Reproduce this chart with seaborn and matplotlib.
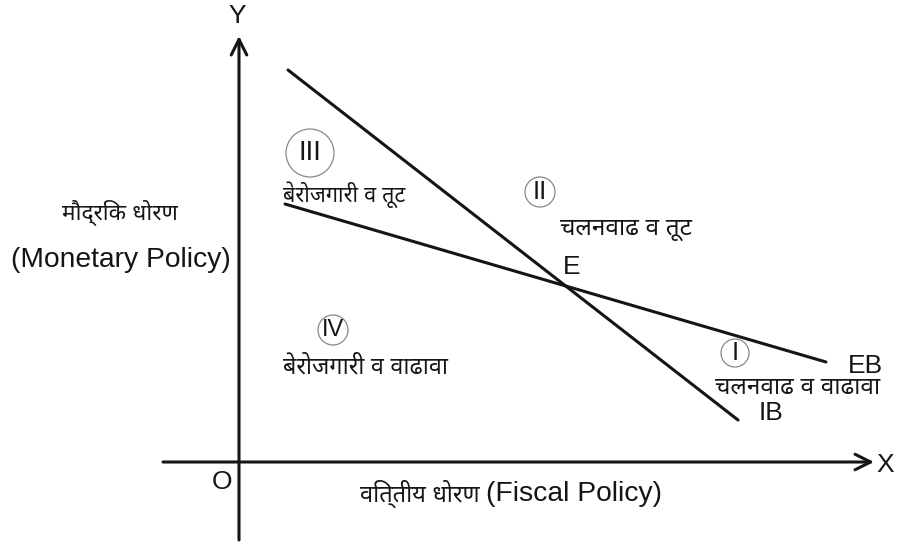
import matplotlib
matplotlib.use("Agg")
import matplotlib.pyplot as plt
from matplotlib.patches import Circle
import seaborn as sns
import pandas as pd

# policy lines, in units measured from the origin O
ib_x = [49, 499]
ib_y = [393, 43]
eb_x = [46, 587]
eb_y = [259, 101]

# quadrant labels: roman numeral, circle centre, radius, text, text position
quad_num = ["III", "II", "IV", "I"]
quad_xy = [(71, 310), (301, 271), (94, 133), (496, 110)]
quad_r = [24, 15, 15, 14]
quad_fs = [20, 18.5, 17, 18.5]
quad_txt = ["बेरोजगारी व तूट", "चलनवाढ व तूट", "बेरोजगारी व वाढावा", "चलनवाढ व वाढावा"]
quad_txt_xy = [(44, 268), (321, 233), (44, 96), (476, 75)]
quad_txt_fs = [15.5, 17.5, 16.8, 17.5]

FONTS = ["Liberation Sans", "Noto Sans Devanagari", "DejaVu Sans"]
INK = "#151515"

sns.set_style("white")
plt.rcParams["font.family"] = FONTS

df = pd.DataFrame({
    "x": ib_x + eb_x,
    "y": ib_y + eb_y,
    "line": ["IB"] * len(ib_x) + ["EB"] * len(eb_x),
})

fig = plt.figure(figsize=(9.19, 5.43), dpi=100)
ax = fig.add_axes([0, 0, 1, 1])
sns.lineplot(data=df, x="x", y="y", hue="line", palette={"IB": INK, "EB": INK},
             sort=False, legend=False, lw=2.2, ax=ax)
ax.set_xlim(-239, 680)
ax.set_ylim(-80, 463)
ax.set_axis_off()

# axes with open arrow heads
arr = dict(arrowstyle="->", lw=2.2, color=INK, mutation_scale=28, shrinkA=0, shrinkB=0)
ax.annotate("", xy=(635, 1), xytext=(-76, 1), arrowprops=arr)
ax.annotate("", xy=(0, 427), xytext=(0, -77), arrowprops=arr)

ax.text(-2, 447, "Y", fontsize=19, ha="center", va="center", color=INK)
ax.text(646, -2, "X", fontsize=19, ha="center", va="center", color=INK)
ax.text(-17, -19, "O", fontsize=19, ha="center", va="center", color=INK)
ax.text(-119, 250, "मौद्रिक धोरण", fontsize=16.3, ha="center", va="center", color=INK)
ax.text(-118, 203, "(Monetary Policy)", fontsize=20.3, ha="center", va="center", color=INK)
ax.text(121, -31, "वित्तीय धोरण", fontsize=17, ha="left", va="center", color=INK)
ax.text(247, -31, "(Fiscal Policy)", fontsize=20.3, ha="left", va="center", color=INK)

ax.text(324, 196, "E", fontsize=19, ha="left", va="center", color=INK)
ax.text(626, 97, "EB", fontsize=19, ha="center", va="center", color=INK)
ax.text(532, 50, "IB", fontsize=19, ha="center", va="center", color=INK)

for num, (cx, cy), r, fs, txt, (tx, ty), tfs in zip(quad_num, quad_xy, quad_r, quad_fs,
                                                    quad_txt, quad_txt_xy, quad_txt_fs):
    ax.add_patch(Circle((cx, cy), r, fill=False, ec="#888888", lw=0.9))
    ax.text(cx, cy, num, fontsize=fs, ha="center", va="center", color=INK)
    ax.text(tx, ty, txt, fontsize=tfs, ha="left", va="center", color=INK)

fig.savefig("out.png", dpi=100, facecolor="white")
